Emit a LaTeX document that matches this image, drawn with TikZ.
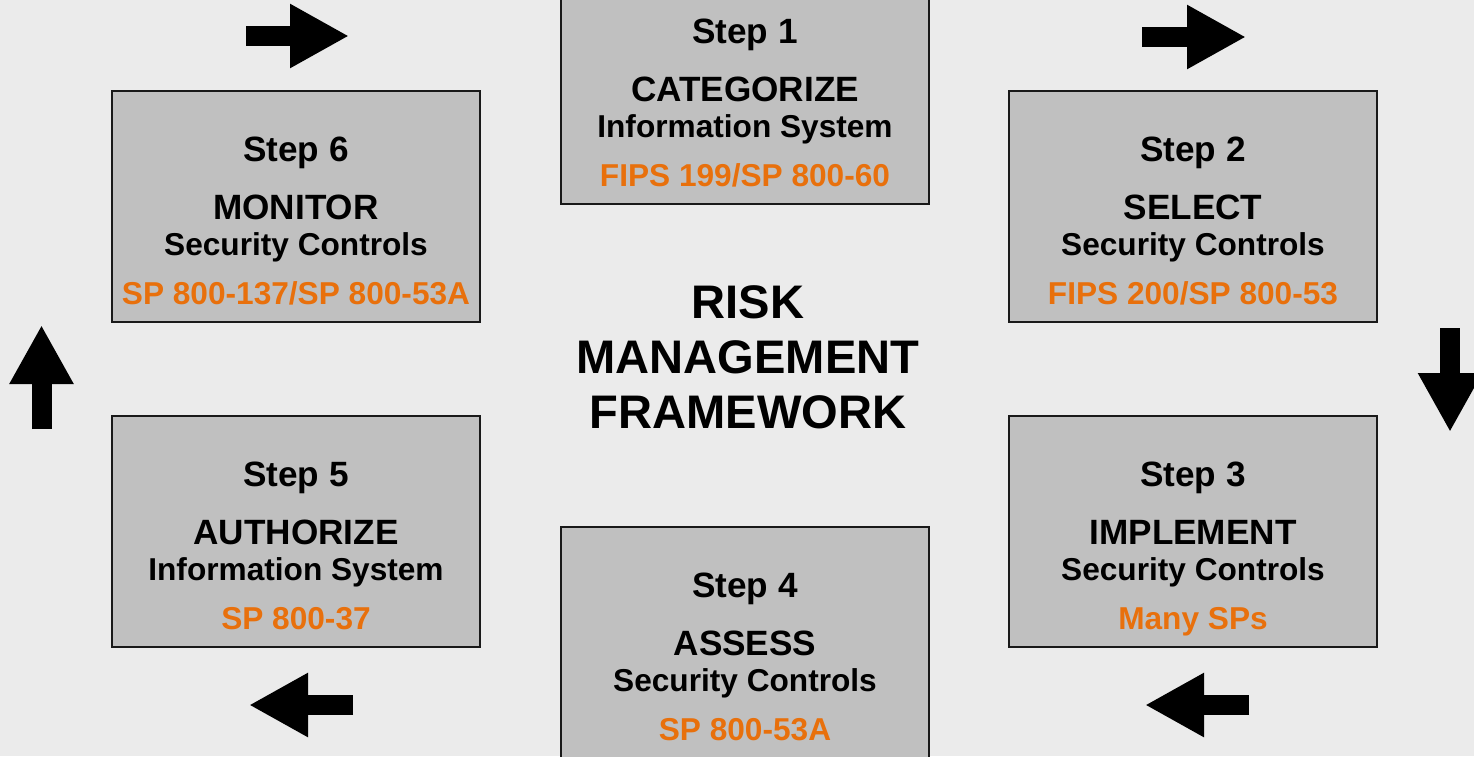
\documentclass[tikz,border=0pt]{standalone}
\usepackage{fontspec}
\setmainfont{Liberation Sans}
\usepackage{tikz}
\usetikzlibrary{positioning,arrows.meta}
\definecolor{bggray}{HTML}{EBEBEB}
\definecolor{boxgray}{HTML}{C0C0C0}
\definecolor{rmforange}{HTML}{E8700C}
\tikzstyle{stepbox}=[draw=black!90, fill=boxgray, line width=1.6pt, minimum width=7.36cm, minimum height=4.62cm, inner sep=0pt]
\tikzstyle{steptext}=[align=center, inner sep=0pt, anchor=north, yshift=-0.94cm, font=\bfseries\fontsize{18}{20.4}\selectfont]
\tikzstyle{blockarrow}=[line width=0.4cm, -{Triangle[length=1.18cm,width=1.2cm]}]
\newcommand{\steplarge}[1]{{\fontsize{20}{20.4}\selectfont #1}}

\begin{document}
\begin{tikzpicture}
\useasboundingbox (0,0) rectangle (29.48,-15.12);
\fill[bggray] (0,0) rectangle (29.48,-15.12);

% boxes
\node[stepbox] at (14.9,-1.77) (s1) {};
\node[stepbox] at (5.92,-4.13) (s6) {};
\node[stepbox, right of = s6, node distance = 17.94cm] (s2) {};
\node[stepbox, below of = s2, node distance = 6.5cm] (s3) {};
\node[stepbox, below of = s6, node distance = 6.5cm] (s5) {};
\node[stepbox, below of = s1, node distance = 11.08cm] (s4) {};

% texts
\node[steptext] at (s1.north) (t1) {\steplarge{Step 1}\\[12.5pt]\steplarge{CATEGORIZE}\\Information System\\[7.4pt]\textcolor{rmforange}{FIPS 199/SP 800-60}};
\node[steptext] at (s2.north) (t2) {\steplarge{Step 2}\\[12.5pt]\steplarge{SELECT}\\Security Controls\\[7.4pt]\textcolor{rmforange}{FIPS 200/SP 800-53}};
\node[steptext] at (s3.north) (t3) {\steplarge{Step 3}\\[12.5pt]\steplarge{IMPLEMENT}\\Security Controls\\[7.4pt]\textcolor{rmforange}{Many SPs}};
\node[steptext] at (s4.north) (t4) {\steplarge{Step 4}\\[12.5pt]\steplarge{ASSESS}\\Security Controls\\[7.4pt]\textcolor{rmforange}{SP 800-53A}};
\node[steptext] at (s5.north) (t5) {\steplarge{Step 5}\\[12.5pt]\steplarge{AUTHORIZE}\\Information System\\[7.4pt]\textcolor{rmforange}{SP 800-37}};
\node[steptext] at (s6.north) (t6) {\steplarge{Step 6}\\[12.5pt]\steplarge{MONITOR}\\Security Controls\\[7.4pt]\textcolor{rmforange}{SP 800-137/SP 800-53A}};

\node[align=center, inner sep=0pt, font=\bfseries\fontsize{26.8}{31.3}\selectfont] at (14.96,-7.15) (rmf) {RISK\\MANAGEMENT\\FRAMEWORK};

% arrows
\coordinate (a61s) at (4.92,-0.72);
\coordinate (a61e) at (6.98,-0.72);
\coordinate (a12s) at (22.84,-0.74);
\coordinate (a12e) at (24.92,-0.74);
\coordinate (a23s) at (29.0,-6.56);
\coordinate (a23e) at (29.0,-8.64);
\coordinate (a34s) at (24.98,-14.1);
\coordinate (a34e) at (22.9,-14.1);
\coordinate (a45s) at (7.06,-14.1);
\coordinate (a45e) at (4.98,-14.1);
\coordinate (a56s) at (0.83,-8.58);
\coordinate (a56e) at (0.83,-6.5);
\draw[blockarrow] (a61s) -- (a61e);
\draw[blockarrow] (a12s) -- (a12e);
\draw[blockarrow] (a23s) -- (a23e);
\draw[blockarrow] (a34s) -- (a34e);
\draw[blockarrow] (a45s) -- (a45e);
\draw[blockarrow] (a56s) -- (a56e);
\end{tikzpicture}
\end{document}
